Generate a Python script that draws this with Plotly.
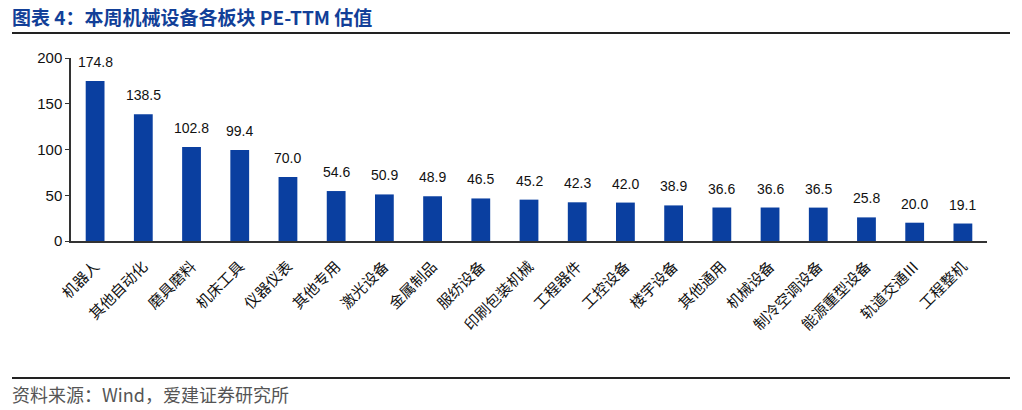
import plotly.graph_objects as go

categories = ["机器人", "其他自动化", "磨具磨料", "机床工具", "仪器仪表", "其他专用", "激光设备",
              "金属制品", "服纺设备", "印刷包装机械", "工程器件", "工控设备", "楼宇设备", "其他通用",
              "机械设备", "制冷空调设备", "能源重型设备", "轨道交通Ⅲ", "工程整机"]
values = [174.8, 138.5, 102.8, 99.4, 70.0, 54.6, 50.9, 48.9, 46.5, 45.2, 42.3, 42.0, 38.9,
          36.6, 36.6, 36.5, 25.8, 20.0, 19.1]
title_text = "图表 4：本周机械设备各板块 PE-TTM 估值"
source_text = "资料来源：Wind，爱建证券研究所"
y_ticks = [0, 50, 100, 150, 200]

W, H = 1022, 410
L, R, T, B = 71, 35, 58, 169
pw, ph = W - L - R, H - T - B

def px(x):
    return (x - L) / pw

def py(y):
    return (H - B - y) / ph

fig = go.Figure(go.Bar(
    x=categories, y=values,
    marker=dict(color="#0A3FA0", line=dict(width=0)),
    width=0.39,
))

value_annotations = [
    dict(x=c, y=v, xref="x", yref="y", text=f"{v:.1f}", showarrow=False,
         yanchor="bottom", yshift=9,
         font=dict(family="Liberation Sans, Arial", size=14, color="#111111"))
    for c, v in zip(categories, values)
]

fig.update_layout(
    width=W, height=H,
    margin=dict(l=L, r=R, t=T, b=B, autoexpand=False),
    paper_bgcolor="white", plot_bgcolor="white",
    showlegend=False,
    xaxis=dict(
        showline=True, linecolor="#333333", linewidth=1.5,
        ticks="", tickangle=-45, automargin=False, ticklabelstandoff=9,
        tickfont=dict(family="Noto Sans CJK SC", size=15, color="#111111"),
        showgrid=False,
    ),
    yaxis=dict(
        range=[0, 200], tickvals=y_ticks, automargin=False,
        showline=True, linecolor="#333333", linewidth=1.5,
        ticks="outside", ticklen=4, tickcolor="#333333",
        tickfont=dict(family="Liberation Sans, Arial", size=15, color="#111111"),
        showgrid=False, zeroline=False,
    ),
    shapes=[
        dict(type="line", xref="paper", yref="paper", x0=px(12), x1=px(1010), y0=py(33), y1=py(33),
             line=dict(color="#222222", width=2)),
        dict(type="line", xref="paper", yref="paper", x0=px(12), x1=px(1010), y0=py(378), y1=py(378),
             line=dict(color="#222222", width=2)),
    ],
    annotations=value_annotations + [
        dict(text=f"<b>{title_text}</b>", xref="paper", yref="paper", x=px(10), y=py(17),
             xanchor="left", yanchor="middle", showarrow=False,
             font=dict(family="Noto Sans CJK SC", size=19, color="#123F98")),
        dict(text=source_text, xref="paper", yref="paper", x=px(10), y=py(394),
             xanchor="left", yanchor="middle", showarrow=False,
             font=dict(family="Noto Sans CJK SC", size=18, color="#555555")),
    ],
)

fig.write_html("out.html", config={"displayModeBar": False})
with open("out.html", "r", encoding="utf-8") as f:
    html = f.read()
html = html.replace("<head>", "<head><style>html,body{margin:0;padding:0;overflow:hidden;}</style>", 1)
with open("out.html", "w", encoding="utf-8") as f:
    f.write(html)
